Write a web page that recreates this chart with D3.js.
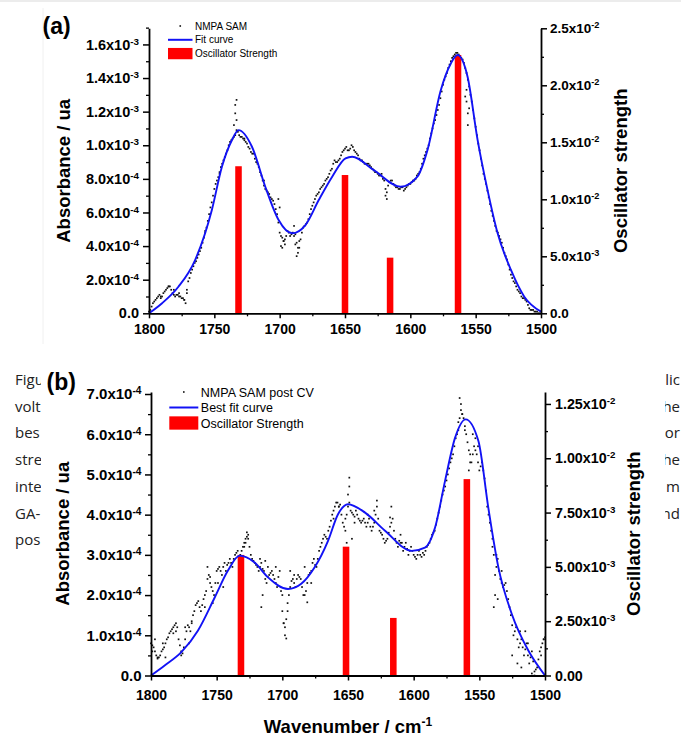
<!DOCTYPE html>
<html>
<head>
<meta charset="utf-8">
<script src="https://cdn.jsdelivr.net/npm/d3@7"></script>
<style>
  body { margin: 0; background: #fff; }
  svg { display: block; }
</style>
</head>
<body>
<div class="figure"></div>
<script>
// sampling grids of the measured spectra, cm-1
const gridEven = d3.range(1800, 1499, -2);
const gridOdd = d3.range(1799, 1500, -2);

// (a) NMPA SAM, absorbance in units of 1e-4
const samA = [
  0.1, 0.4, 0.7, 0.9, 1.1, 1.0, 1.3, 1.5, 1.6, 1.2,
  1.0, 1.1, 1.0, 0.9, 0.6, 1.9, 2.4, 2.8, 3.1, 3.5,
  3.9, 4.5, 5.1, 5.9, 6.6, 7.4, 7.9, 8.4, 8.9, 9.3,
  9.7, 10.2, 10.4, 10.6, 10.8, 10.5, 10.4, 10.2, 9.9, 9.6,
  9.5, 9.0, 8.7, 8.2, 7.6, 7.3, 7.1, 6.8, 6.5, 5.9,
  4.8, 4.5, 4.1, 4.9, 4.6, 4.8, 4.7, 3.6, 4.4, 5.1,
  5.3, 5.6, 6.2, 6.6, 7.0, 7.2, 7.5, 7.7, 8.0, 8.3,
  8.6, 9.1, 9.0, 9.2, 9.6, 9.8, 9.7, 9.8, 9.9, 9.6,
  9.4, 9.1, 9.0, 8.9, 8.9, 8.7, 8.5, 8.4, 8.2, 8.3,
  7.9, 7.2, 7.8, 7.9, 7.6, 7.5, 7.4, 7.5, 7.4, 7.6,
  7.7, 7.9, 8.0, 8.3, 8.6, 9.2, 9.6, 10.0, 10.7, 11.3,
  11.8, 12.4, 13.2, 13.9, 14.3, 14.8, 15.2, 15.4, 15.5, 15.3,
  15.1, 14.6, 13.9, 13.0, 12.1, 11.1, 10.1, 9.2, 8.3, 7.7,
  6.9, 6.1, 5.5, 4.9, 4.6, 4.2, 3.6, 3.2, 2.6, 2.1,
  1.8, 1.4, 1.2, 0.9, 0.8, 0.5, 0.2, 0.2, 0.1, 0.0,
  0.1
];
const samAOdd = [
  0.2, 0.6, 0.8, 1.0, 1.0, 1.2, 1.4, 1.6, 1.4, 1.1,
  1.1, 1.0, 0.9, 0.8, 1.2, 2.1, 2.6, 3.0, 3.3, 3.7,
  4.2, 4.8, 5.5, 6.3, 7.0, 7.7, 8.1, 8.7, 9.1, 9.5,
  10.0, 10.3, 10.5, 10.9, 10.6, 10.5, 10.3, 10.1, 9.8, 9.5,
  9.2, 8.9, 8.4, 7.9, 7.4, 7.2, 6.9, 6.7, 6.2, 5.4,
  4.6, 4.3, 4.6, 4.8, 4.7, 4.6, 4.2, 3.9, 4.8, 5.2,
  5.4, 5.9, 6.4, 6.8, 7.1, 7.4, 7.6, 7.9, 8.1, 8.5,
  8.9, 9.0, 9.1, 9.4, 9.7, 9.9, 9.7, 10.0, 9.7, 9.5,
  9.2, 9.1, 8.9, 8.9, 8.8, 8.6, 8.4, 8.3, 8.2, 8.0,
  7.4, 7.6, 7.9, 7.7, 7.5, 7.4, 7.5, 7.3, 7.5, 7.7,
  7.8, 7.9, 8.2, 8.4, 8.9, 9.4, 9.8, 10.4, 11.0, 11.5,
  12.1, 12.8, 13.6, 14.1, 14.6, 15.0, 15.3, 15.5, 15.4, 15.2,
  14.9, 14.3, 13.5, 12.6, 11.6, 10.6, 9.7, 8.8, 8.0, 7.3,
  6.5, 5.8, 5.2, 4.8, 4.4, 3.9, 3.4, 2.9, 2.3, 1.9,
  1.6, 1.3, 1.0, 0.9, 0.7, 0.3, 0.2, 0.1, 0.1, 0.0
];
// scattered points off the main trace [wavenumber, 1e-4]
const samAExtra = [
  [1791, 0.9], [1785, 1.6], [1781, 1.4], [1777, 1.2], [1773, 0.8], [1771, 1.4],
  [1757, 4.9], [1746, 8.3], [1735, 11.2], [1734, 11.9], [1734, 12.4], [1733, 12.7],
  [1733, 11.5], [1727, 10.4], [1712, 7.9], [1701, 6.8], [1700, 6.3], [1699, 4.0],
  [1698, 3.9], [1697, 4.3], [1696, 4.4], [1689, 5.2], [1688, 4.1], [1687, 3.4],
  [1686, 3.9], [1685, 4.3], [1619, 7.0], [1618, 6.8], [1558, 12.9], [1557, 13.3],
  [1557, 12.6], [1556, 11.9], [1556, 11.2], [1555, 12.2]
];
const fitWnA = [1800, 1790, 1777.5, 1764.7, 1751.9, 1744.2, 1736.5, 1731.5, 1721.2, 1711,
  1700.8, 1690.5, 1680.3, 1670.1, 1659.8, 1649.6, 1644.5, 1627.9, 1607.4, 1594.6,
  1586.9, 1576.7, 1569, 1563.9, 1556.2, 1548.5, 1540.9, 1533.2, 1523, 1512.8, 1500];
const fitA = [0, 0.6, 1.58, 3.17, 6.15, 8.72, 10.31, 10.9, 9.91, 7.53,
  5.55, 4.76, 5.25, 6.74, 8.13, 9.22, 9.32, 8.52, 7.53, 8.13,
  9.71, 13.28, 14.87, 15.37, 14.08, 10.31, 7.33, 4.76, 2.58, 0.99, 0.1];
const oscWnA = [1731.5, 1650, 1615.5, 1563.5];
const oscA = [0.0129, 0.01213, 0.00488, 0.02266];

// (b) NMPA SAM post CV, absorbance in units of 1e-4
const samB = [
  0.8, 0.7, 0.5, 0.45, 0.6, 0.7, 0.9, 1.05, 1.15, 1.25,
  1.2, 0.75, 0.55, 0.9, 1.25, 1.1, 1.5, 1.75, 1.85, 1.6,
  1.9, 2.1, 2.5, 2.2, 2.0, 2.6, 2.7, 2.5, 2.8, 2.75,
  2.9, 2.7, 3.0, 3.1, 3.0, 3.2, 3.4, 3.5, 3.0, 2.85,
  2.75, 2.6, 2.8, 2.6, 2.3, 2.5, 2.6, 2.4, 2.2, 2.6,
  1.6, 1.0, 1.6, 2.2, 2.4, 2.2, 2.5, 2.4, 2.0, 2.1,
  2.5, 2.6, 2.9, 2.7, 3.1, 3.3, 3.5, 3.4, 3.7, 4.0,
  4.2, 4.3, 4.25, 3.8, 3.9, 4.2, 4.1, 4.0, 4.1, 3.9,
  3.8, 3.9, 3.7, 3.9, 3.6, 3.8, 4.2, 3.6, 3.5, 3.3,
  3.4, 3.7, 3.9, 3.4, 3.2, 3.5, 3.1, 3.3, 3.0, 3.2,
  3.0, 2.9, 3.1, 2.95, 3.0, 3.2, 3.3, 3.5, 3.6, 3.9,
  4.2, 4.5, 4.7, 5.0, 5.3, 5.5, 5.9, 6.1, 6.6, 6.4,
  6.0, 5.6, 5.3, 5.7, 5.5, 5.1, 5.3, 4.9, 4.2, 3.8,
  3.4, 2.5, 2.9, 2.4, 2.2, 2.3, 1.9, 1.5, 1.0, 1.2,
  0.7, 0.9, 0.5, 0.8, 0.3, 0.6, 0.1, 0.2, 0.6, 0.8,
  0.95
];
const samBOdd = [
  0.75, 0.6, 0.45, 0.5, 0.65, 0.8, 0.95, 1.1, 1.2, 1.1,
  0.9, 0.6, 0.7, 1.1, 1.2, 1.35, 1.6, 1.8, 1.7, 1.75,
  2.0, 2.4, 2.3, 2.1, 2.3, 2.65, 2.6, 2.7, 2.6, 2.8,
  2.8, 2.9, 3.05, 2.9, 3.1, 3.3, 3.45, 3.2, 2.9, 2.8,
  2.7, 2.7, 2.65, 2.4, 2.45, 2.55, 2.5, 2.3, 2.45, 2.1,
  1.3, 1.4, 2.0, 2.35, 2.3, 2.4, 2.45, 2.2, 2.0, 2.3,
  2.55, 2.8, 2.75, 2.9, 3.2, 3.4, 3.45, 3.6, 3.85, 4.1,
  4.3, 4.2, 4.0, 3.7, 4.0, 4.3, 4.05, 3.95, 4.0, 3.85,
  3.85, 3.8, 3.8, 3.7, 3.7, 4.0, 3.9, 3.55, 3.4, 3.35,
  3.55, 3.8, 3.6, 3.3, 3.35, 3.3, 3.2, 3.15, 3.1, 3.1,
  2.95, 3.0, 3.0, 3.05, 3.1, 3.25, 3.4, 3.55, 3.75, 4.05,
  4.35, 4.6, 4.85, 5.15, 5.4, 5.7, 6.0, 6.4, 6.5, 6.2,
  5.8, 5.5, 5.5, 5.6, 5.3, 5.2, 5.1, 4.6, 4.0, 3.6,
  3.0, 2.7, 2.6, 2.3, 2.25, 2.1, 1.7, 1.25, 1.1, 0.9,
  0.8, 0.7, 0.65, 0.5, 0.45, 0.35, 0.15, 0.4, 0.7, 0.9
];
const samBExtra = [
  [1799, 0.6], [1797, 0.9], [1795, 0.42], [1791, 0.8], [1789, 0.45], [1783, 1.05],
  [1781, 1.3], [1777, 0.5], [1774, 1.2], [1771, 0.8], [1769, 1.3], [1759, 1.7],
  [1757, 2.7], [1755, 2.45], [1753, 1.8], [1749, 2.3], [1745, 2.2], [1733, 2.7],
  [1729, 3.2], [1728, 3.3], [1727, 3.56], [1726, 3.4], [1717, 2.9], [1716, 1.7],
  [1715, 2.0], [1713, 2.85], [1711, 2.7], [1705, 2.7], [1700, 2.0], [1699, 1.3],
  [1698, 1.2], [1697, 0.92], [1696, 1.8], [1694, 2.6], [1691, 2.5], [1683, 2.7],
  [1681, 1.82], [1678, 2.3], [1661, 3.9], [1657, 4.2], [1652, 3.6], [1651, 3.3],
  [1650, 4.5], [1649, 4.92], [1649, 4.7], [1647, 3.4], [1645, 3.8], [1635, 4.0],
  [1630, 4.1], [1628, 4.35], [1618, 3.93], [1617, 4.2], [1610, 3.3], [1566, 6.3],
  [1565, 6.9], [1564, 6.75], [1563, 6.5], [1561, 6.1], [1558, 5.1], [1557, 5.3],
  [1555, 6.0], [1553, 5.9], [1551, 5.7], [1540, 3.2], [1539, 1.7], [1538, 2.0],
  [1537, 3.0], [1536, 1.9], [1533, 2.6], [1525, 0.5], [1521, 0.3], [1519, 1.1],
  [1518, 0.2], [1515, 1.1], [1513, 0.8], [1510, 0.05], [1508, 0.0], [1503, 0.5],
  [1501, 0.9]
];
const fitWnB = [1800, 1789.6, 1776.9, 1764.2, 1751.5, 1741.4, 1732.5, 1721.1, 1710.9, 1695.7,
  1685.6, 1675.4, 1665.2, 1657.6, 1650, 1637, 1621.8, 1601.5, 1591.4, 1583.7,
  1576.1, 1568.5, 1560.4, 1550.7, 1543.2, 1535.5, 1525.3, 1512.7, 1500];
const fitB = [0, 0.25, 0.58, 1.12, 1.94, 2.61, 2.98, 2.81, 2.44, 2.15,
  2.28, 2.69, 3.35, 4.01, 4.26, 4.05, 3.6, 3.1, 3.18, 3.68,
  4.84, 5.91, 6.37, 5.83, 4.18, 2.69, 1.53, 0.62, 0];
const oscWnB = [1731.5, 1651.5, 1615.5, 1559.5];
const oscB = [0.00555, 0.00593, 0.00265, 0.00904];

// ticks and labels (^ marks the exponent)
const xTicks = [1800, 1750, 1700, 1650, 1600, 1550, 1500];
const xMinor = [1775, 1725, 1675, 1625, 1575, 1525];
const leftTicksA = [0, 2e-4, 4e-4, 6e-4, 8e-4, 1e-3, 1.2e-3, 1.4e-3, 1.6e-3];
const leftLabelsA = ['0.0', '2.0x10^-4', '4.0x10^-4', '6.0x10^-4', '8.0x10^-4',
  '1.0x10^-3', '1.2x10^-3', '1.4x10^-3', '1.6x10^-3'];
const leftMinorA = [1e-4, 3e-4, 5e-4, 7e-4, 9e-4, 1.1e-3, 1.3e-3, 1.5e-3, 1.7e-3];
const rightTicksA = [0, 5e-3, 1e-2, 1.5e-2, 2e-2, 2.5e-2];
const rightLabelsA = ['0.0', '5.0x10^-3', '1.0x10^-2', '1.5x10^-2', '2.0x10^-2', '2.5x10^-2'];
const rightMinorA = [2.5e-3, 7.5e-3, 1.25e-2, 1.75e-2, 2.25e-2];
const leftTicksB = [0, 1e-4, 2e-4, 3e-4, 4e-4, 5e-4, 6e-4, 7e-4];
const leftLabelsB = ['0.0', '1.0x10^-4', '2.0x10^-4', '3.0x10^-4', '4.0x10^-4',
  '5.0x10^-4', '6.0x10^-4', '7.0x10^-4'];
const leftMinorB = [0.5e-4, 1.5e-4, 2.5e-4, 3.5e-4, 4.5e-4, 5.5e-4, 6.5e-4];
const rightTicksB = [0, 2.5e-3, 5e-3, 7.5e-3, 1e-2, 1.25e-2];
const rightLabelsB = ['0.00', '2.50x10^-3', '5.00x10^-3', '7.50x10^-3', '1.00x10^-2', '1.25x10^-2'];
const rightMinorB = [1.25e-3, 3.75e-3, 6.25e-3, 8.75e-3, 1.125e-2];

// visible bits of the page caption behind panel (b)
const captionLeft = ['Figu', 'volt', 'bes', 'stre', 'inte', 'GA-', 'pos'];
const captionRight = ['lic', 'he', 'or', 'he', 'm', 'nd'];

const FONT = "'Liberation Sans', Arial, sans-serif";
const BLUE = '#1212f5';
const RED = '#ff0000';

let svg = d3.select('.figure')
  .append('svg')
  .attr('width', 681)
  .attr('height', 736)
  .attr('font-family', FONT);

svg.append('rect').attr('width', 681).attr('height', 736).attr('fill', '#fff');
// page edge of the upper image
svg.append('rect').attr('x', 0).attr('y', 0).attr('width', 681).attr('height', 2).attr('fill', '#ececec');
svg.append('line').attr('x1', 43).attr('x2', 43).attr('y1', 8).attr('y2', 344)
  .attr('stroke', '#f0f0f0').attr('stroke-width', 1);

// caption, clipped by the white box of panel (b)
let defs = svg.append('defs');
defs.append('clipPath').attr('id', 'clip-left')
  .append('rect').attr('x', 0).attr('y', 350).attr('width', 41).attr('height', 220);
defs.append('clipPath').attr('id', 'clip-right')
  .append('rect').attr('x', 665).attr('y', 350).attr('width', 16).attr('height', 220);

svg.append('g')
  .attr('clip-path', 'url(#clip-left)')
  .attr('font-family', "'Open Sans', sans-serif")
  .attr('font-size', 15)
  .attr('fill', '#222')
  .selectAll('text')
  .data(captionLeft)
  .enter()
  .append('text')
  .attr('x', 15)
  .attr('y', (d, i) => 385 + i * 26.7)
  .text(d => d);
svg.append('g')
  .attr('clip-path', 'url(#clip-right)')
  .attr('font-family', "'Open Sans', sans-serif")
  .attr('font-size', 15)
  .attr('fill', '#222')
  .attr('text-anchor', 'end')
  .selectAll('text')
  .data(captionRight)
  .enter()
  .append('text')
  .attr('x', 680)
  .attr('y', (d, i) => 385 + i * 26.7)
  .text(d => d);

// text with a superscript part after '^'
function supText(text, str, supSize, rise) {
  const parts = str.split('^');
  text.text(null);
  text.append('tspan').text(parts[0]);
  if (parts[1]) {
    text.append('tspan').attr('dy', -rise).attr('font-size', supSize).text(parts[1]);
  }
}

function styleAxis(g, size, labels) {
  g.attr('font-family', FONT).attr('font-size', size).attr('font-weight', 'bold');
  g.select('.domain').attr('stroke-width', 1.8);
  g.selectAll('.tick line').attr('stroke-width', 1.5);
  if (labels) {
    g.selectAll('.tick text').each(function (d, i) {
      supText(d3.select(this), labels[i], size * 0.68, 5);
    });
  }
}

function minorAxis(g) {
  g.select('.domain').remove();
  g.selectAll('.tick line').attr('stroke-width', 1.3);
}

function drawPanel(p) {
  let x = d3.scaleLinear().domain([1800, 1500]).range([p.left, p.right]);
  let y = d3.scaleLinear().domain([0, p.absMax]).range([p.bottom, p.top]);
  let y2 = d3.scaleLinear().domain([0, p.oscMax]).range([p.bottom, p.top]);
  let vis = svg.append('g');

  // measured points
  let pts = p.sam.map((v, i) => [gridEven[i], v])
    .concat(p.samOdd.map((v, i) => [gridOdd[i], v]))
    .concat(p.samExtra);
  vis.append('g')
    .selectAll('rect')
    .data(pts)
    .enter()
    .append('rect')
    .attr('x', d => x(d[0]) - 0.85)
    .attr('y', d => y(d[1] * 1e-4) - 0.85)
    .attr('width', 1.7)
    .attr('height', 1.7)
    .attr('fill', '#111');

  // oscillator strength bars
  vis.append('g')
    .selectAll('rect')
    .data(p.oscWn)
    .enter()
    .append('rect')
    .attr('x', d => x(d + 2.5))
    .attr('width', d => x(d - 2.5) - x(d + 2.5))
    .attr('y', (d, i) => y2(p.osc[i]))
    .attr('height', (d, i) => y2(0) - y2(p.osc[i]))
    .attr('fill', RED);

  // fit curve
  let line = d3.line()
    .x(d => x(d[0]))
    .y(d => y(d[1] * 1e-4))
    .curve(d3.curveMonotoneX);
  vis.append('path')
    .datum(p.fitWn.map((w, i) => [w, p.fit[i]]))
    .attr('d', line)
    .attr('fill', 'none')
    .attr('stroke', BLUE)
    .attr('stroke-width', 1.9);

  // axes
  vis.append('g')
    .attr('transform', `translate(0,${p.bottom})`)
    .call(d3.axisBottom(x).tickValues(xTicks).tickFormat(d3.format('d'))
      .tickSize(5).tickSizeOuter(0).tickPadding(p.xPad))
    .call(g => styleAxis(g, 14, null));
  vis.append('g')
    .attr('transform', `translate(0,${p.bottom})`)
    .call(d3.axisBottom(x).tickValues(xMinor).tickFormat('').tickSize(3))
    .call(minorAxis);

  vis.append('g')
    .attr('transform', `translate(${p.left},0)`)
    .call(d3.axisLeft(y).tickValues(p.leftTicks).tickSize(6).tickSizeOuter(0).tickPadding(p.leftPad))
    .call(g => styleAxis(g, p.leftSize, p.leftLabels));
  vis.append('g')
    .attr('transform', `translate(${p.left},0)`)
    .call(d3.axisLeft(y).tickValues(p.leftMinor).tickFormat('').tickSize(3))
    .call(minorAxis);

  vis.append('g')
    .attr('transform', `translate(${p.right},0)`)
    .call(d3.axisRight(y2).tickValues(p.rightTicks).tickSize(6).tickSizeOuter(0).tickPadding(p.rightPad))
    .call(g => styleAxis(g, p.rightSize, p.rightLabels));
  vis.append('g')
    .attr('transform', `translate(${p.right},0)`)
    .call(d3.axisRight(y2).tickValues(p.rightMinor).tickFormat('').tickSize(3))
    .call(minorAxis);

  // axis titles
  vis.append('text')
    .attr('transform', `translate(${p.leftTitleX},${(p.top + p.bottom) / 2}) rotate(-90)`)
    .attr('text-anchor', 'middle')
    .attr('font-size', 18.5)
    .attr('font-weight', 'bold')
    .text('Absorbance / ua');
  vis.append('text')
    .attr('transform', `translate(${p.rightTitleX},${(p.top + p.bottom) / 2}) rotate(-90)`)
    .attr('text-anchor', 'middle')
    .attr('font-size', 18.5)
    .attr('font-weight', 'bold')
    .text('Oscillator strength');

  // panel letter
  vis.append('text')
    .attr('x', p.tagX)
    .attr('y', p.tagY)
    .attr('font-size', 23)
    .attr('font-weight', 'bold')
    .text(p.tag);

  // legend
  let lg = vis.append('g')
    .attr('transform', `translate(${p.legX},${p.legY})`)
    .attr('font-size', p.legSize);
  lg.append('rect').attr('x', p.legW / 2 - 0.8).attr('y', -0.8).attr('width', 1.6).attr('height', 1.6).attr('fill', '#111');
  lg.append('line').attr('x1', 0).attr('x2', p.legW).attr('y1', p.legStep).attr('y2', p.legStep)
    .attr('stroke', BLUE).attr('stroke-width', 2);
  lg.append('rect').attr('x', 0).attr('y', p.legStep * 2 - p.legH / 2)
    .attr('width', p.legW).attr('height', p.legH).attr('fill', RED);
  lg.selectAll('text')
    .data(p.legText)
    .enter()
    .append('text')
    .attr('x', p.legW + 2.5)
    .attr('y', (d, i) => i * p.legStep + p.legSize * 0.36)
    .text(d => d);

  return vis;
}

// white box of panel (b) over the caption
svg.append('rect').attr('x', 41).attr('y', 352).attr('width', 624).attr('height', 384).attr('fill', '#fff');

drawPanel({
  left: 149, right: 541, top: 28.3, bottom: 313.3,
  absMax: 1.696e-3, oscMax: 0.025,
  sam: samA, samOdd: samAOdd, samExtra: samAExtra, fitWn: fitWnA, fit: fitA, oscWn: oscWnA, osc: oscA,
  leftTicks: leftTicksA, leftLabels: leftLabelsA, leftMinor: leftMinorA,
  rightTicks: rightTicksA, rightLabels: rightLabelsA, rightMinor: rightMinorA,
  xPad: 6, leftPad: 4, rightPad: 3, leftSize: 14.5, rightSize: 13.5,
  leftTitleX: 69.5, rightTitleX: 626.5,
  tag: '(a)', tagX: 42.5, tagY: 34,
  legX: 168, legY: 26, legW: 24.5, legH: 11.3, legStep: 13.8, legSize: 10,
  legText: ['NMPA SAM', 'Fit curve', 'Oscillator Strength']
});

drawPanel({
  left: 151, right: 545, top: 392, bottom: 675.5,
  absMax: 7.05e-4, oscMax: 0.01305,
  sam: samB, samOdd: samBOdd, samExtra: samBExtra, fitWn: fitWnB, fit: fitB, oscWn: oscWnB, osc: oscB,
  leftTicks: leftTicksB, leftLabels: leftLabelsB, leftMinor: leftMinorB,
  rightTicks: rightTicksB, rightLabels: rightLabelsB, rightMinor: rightMinorB,
  xPad: 9.5, leftPad: 3.5, rightPad: 4, leftSize: 15, rightSize: 14.3,
  leftTitleX: 69, rightTitleX: 640,
  tag: '(b)', tagX: 46.5, tagY: 390,
  legX: 169.3, legY: 392, legW: 29, legH: 13.3, legStep: 15.5, legSize: 12.5,
  legText: ['NMPA SAM post CV', 'Best fit curve', 'Oscillator Strength']
});

// x axis title of the lower panel
let xt = svg.append('text')
  .attr('x', 348)
  .attr('y', 733)
  .attr('text-anchor', 'middle')
  .attr('font-size', 18.5)
  .attr('font-weight', 'bold');
supText(xt, 'Wavenumber / cm^-1', 12, 7);
</script>
</body>
</html>
